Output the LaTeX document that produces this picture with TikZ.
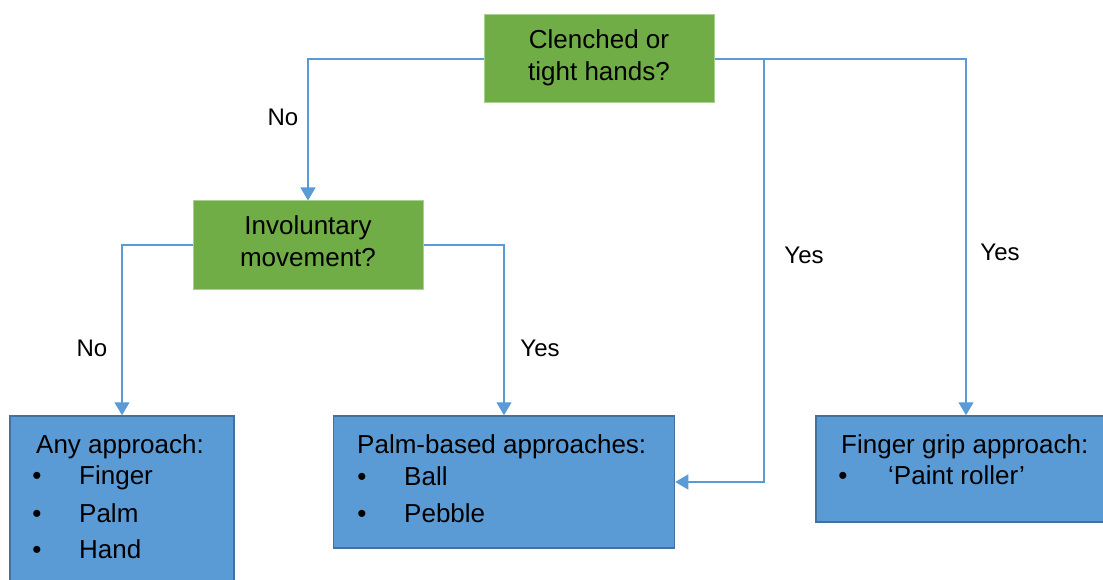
\documentclass[tikz,border=0pt]{standalone}
\usepackage{fontspec}
\setmainfont{Liberation Sans}
\usetikzlibrary{arrows.meta}
\definecolor{qgreen}{HTML}{70AD47}
\definecolor{qgreenline}{HTML}{A9D18E}
\definecolor{abox}{HTML}{5B9BD5}
\definecolor{aboxline}{HTML}{41719C}
\definecolor{link}{HTML}{5B9BD5}
\begin{document}
\begin{tikzpicture}[x=1pt,y=-1pt,
  question/.style={rectangle, fill=qgreen, draw=qgreenline, line width=1pt, inner sep=0pt},
  answer/.style={rectangle, fill=abox, draw=aboxline, line width=1.5pt, inner sep=0pt},
  txt/.style={inner sep=0pt, font=\fontsize{26}{31}\selectfont},
  lbl/.style={inner sep=0pt, font=\fontsize{24}{28}\selectfont},
  flow/.style={draw=link, line width=1.4pt, -{Triangle[width=15pt,length=13pt]}}]
\useasboundingbox (0,0) rectangle (1103,580);

% question boxes
\node[question, minimum width=230pt, minimum height=88pt] (q1) at (599,59) {};
\node[question, minimum width=230pt, minimum height=88pt] (q2) at (308,245) {};
\node[txt, anchor=base] (q1a) at (599,49) {Clenched or};
\node[txt, anchor=base] (q1b) at (599,81) {tight hands?};
\node[txt, anchor=base] (q2a) at (308,235) {Involuntary};
\node[txt, anchor=base] (q2b) at (308,266) {movement?};

% answer boxes
\node[answer, minimum width=224pt, minimum height=184pt] (any) at (122,508) {};
\node[answer, minimum width=341pt, minimum height=132pt] (palm) at (504,482) {};
\node[answer, minimum width=300pt, minimum height=106pt] (grip) at (966,469) {};

\node[txt, anchor=base west] (anyh) at (36,453) {Any approach:};
\node[txt, anchor=base] (anyb1) at (37,484) {•};
\node[txt, anchor=base west] (any1) at (79,484) {Finger};
\node[txt, anchor=base] (anyb2) at (37,522) {•};
\node[txt, anchor=base west] (any2) at (79,522) {Palm};
\node[txt, anchor=base] (anyb3) at (37,558) {•};
\node[txt, anchor=base west] (any3) at (79,558) {Hand};

\node[txt, anchor=base west] (palmh) at (357,453) {Palm-based approaches:};
\node[txt, anchor=base] (palmb1) at (362,485) {•};
\node[txt, anchor=base west] (palm1) at (404,485) {Ball};
\node[txt, anchor=base] (palmb2) at (362,522) {•};
\node[txt, anchor=base west] (palm2) at (404,522) {Pebble};

\node[txt, anchor=base west] (griph) at (841,453) {Finger grip approach:};
\node[txt, anchor=base] (gripb1) at (843,484) {•};
\node[txt, anchor=base west] (grip1) at (888,484) {‘Paint roller’};

% connectors
\coordinate (split) at (764,59);
\draw[flow] (q1.west) -| (q2.north);
\draw[flow] (q1.east) -| (grip.north);
\draw[flow] (split) |- (palm.east);
\draw[flow] (q2.west) -| (any.north);
\draw[flow] (q2.east) -| (palm.north);

% branch labels
\node[lbl] (l1) at (283,117) {No};
\node[lbl] (l2) at (804,255) {Yes};
\node[lbl] (l3) at (1000,252) {Yes};
\node[lbl] (l4) at (92,348) {No};
\node[lbl] (l5) at (540,348) {Yes};
\end{tikzpicture}
\end{document}
